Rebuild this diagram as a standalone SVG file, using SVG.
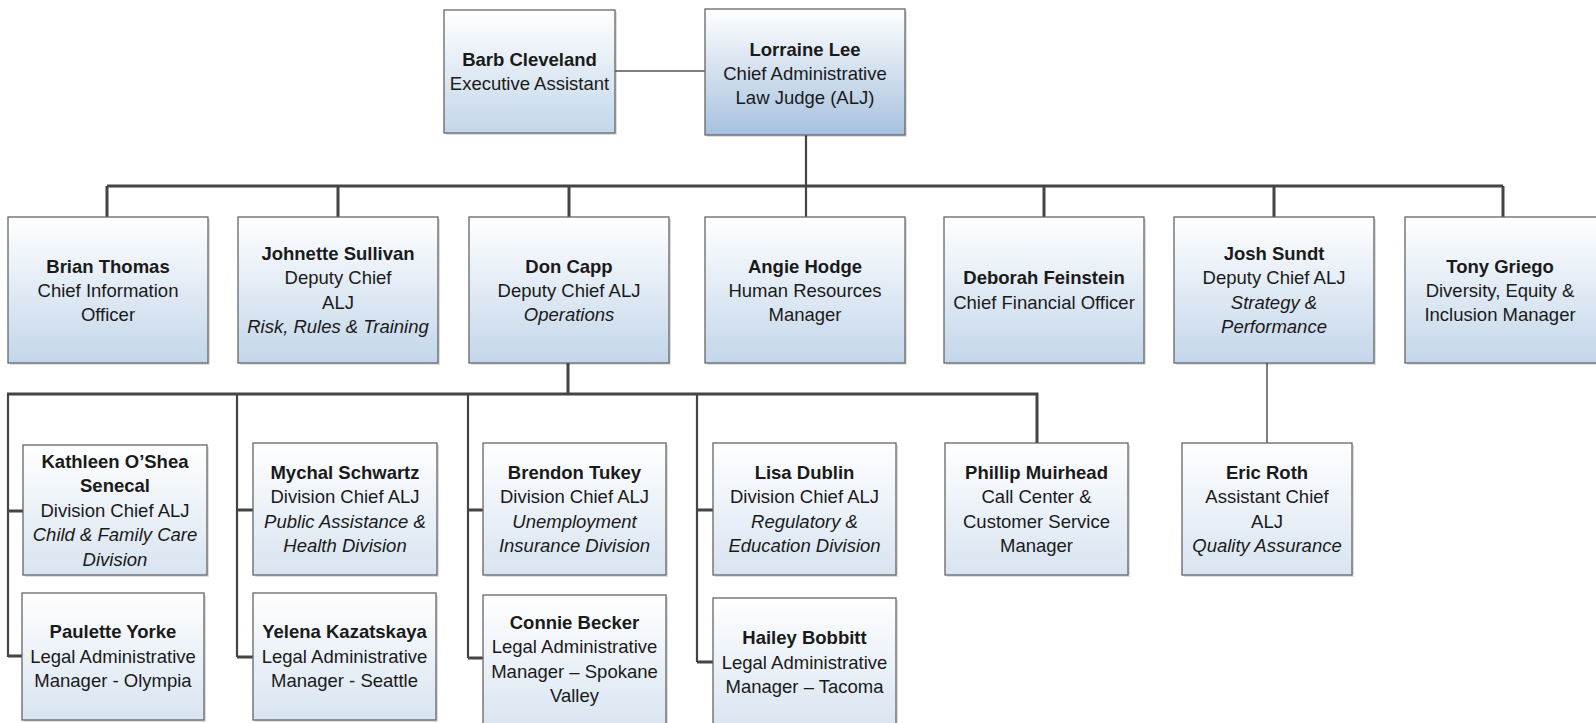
<svg xmlns="http://www.w3.org/2000/svg" width="1596" height="723" viewBox="0 0 1596 723">
<defs>
<linearGradient id="gTop" x1="0" y1="0" x2="0" y2="1"><stop offset="0" stop-color="#ffffff"/><stop offset="1" stop-color="#a6c1de"/></linearGradient>
<linearGradient id="gMid" x1="0" y1="0" x2="0" y2="1"><stop offset="0" stop-color="#ffffff"/><stop offset="1" stop-color="#c3d6ea"/></linearGradient>
<linearGradient id="gLow" x1="0" y1="0" x2="0" y2="1"><stop offset="0" stop-color="#ffffff"/><stop offset="1" stop-color="#d8e4f1"/></linearGradient>
<style>
.sh{fill:#000;opacity:.13}
.bx{stroke:#666;stroke-width:1.3}
.top{fill:url(#gTop)}
.mid{fill:url(#gMid)}
.low{fill:url(#gLow)}
text{font-family:"Liberation Sans",Arial,sans-serif;font-size:18.5px;fill:#1a1a1a;text-anchor:middle}
.b{font-weight:bold}
.i{font-style:italic}
.c{fill:none;stroke:#444}
.t1{stroke-width:1.5;stroke:#555}
.t2{stroke-width:2.2}
.t3{stroke-width:3}
</style>
</defs>
<g id="connectors">
<path class="c t1" d="M615 71H705"/>
<path class="c t2" d="M806 135V217"/>
<path class="c t3" d="M107 186H1503M107 186V217M338 186V217M569 186V217M1044 186V217M1274 186V217M1503 186V217"/>
<path class="c t3" d="M568 363V394M7 394H1037V443"/>
<path class="c t2" d="M8 394V657M237 394V657M468 394V658M697 394V662"/>
<path class="c t3" d="M8 511H23M8 656H22M237 510H253M237 657H253M468 510H483M468 658H483M697 510H713M697 662H713"/>
<path class="c t1" d="M1267 363V443"/>
</g>
<g id="barb"><rect class="sh" x="446" y="12" width="171" height="123"/><rect class="bx mid" x="444" y="10" width="171" height="123"/>
<text x="529.5" y="66" class="b">Barb Cleveland</text><text x="529.5" y="90">Executive Assistant</text></g>
<g id="lorraine"><rect class="sh" x="707" y="11" width="200" height="126"/><rect class="bx top" x="705" y="9" width="200" height="126"/>
<text x="805" y="56" class="b">Lorraine Lee</text><text x="805" y="80">Chief Administrative</text><text x="805" y="103.5">Law Judge (ALJ)</text></g>
<g id="brian"><rect class="sh" x="10" y="219" width="200" height="146"/><rect class="bx mid" x="8" y="217" width="200" height="146"/>
<text x="108" y="272.5" class="b">Brian Thomas</text><text x="108" y="297">Chief Information</text><text x="108" y="321">Officer</text></g>
<g id="johnette"><rect class="sh" x="240" y="219" width="200" height="146"/><rect class="bx mid" x="238" y="217" width="200" height="146"/>
<text x="338" y="260" class="b">Johnette Sullivan</text><text x="338" y="284">Deputy Chief</text><text x="338" y="309">ALJ</text><text x="338" y="333" class="i">Risk, Rules &amp; Training</text></g>
<g id="don"><rect class="sh" x="471" y="219" width="200" height="146"/><rect class="bx mid" x="469" y="217" width="200" height="146"/>
<text x="569" y="272.5" class="b">Don Capp</text><text x="569" y="297">Deputy Chief ALJ</text><text x="569" y="321" class="i">Operations</text></g>
<g id="angie"><rect class="sh" x="707" y="219" width="200" height="146"/><rect class="bx mid" x="705" y="217" width="200" height="146"/>
<text x="805" y="272.5" class="b">Angie Hodge</text><text x="805" y="297">Human Resources</text><text x="805" y="321">Manager</text></g>
<g id="deborah"><rect class="sh" x="946" y="219" width="200" height="146"/><rect class="bx mid" x="944" y="217" width="200" height="146"/>
<text x="1044" y="284" class="b">Deborah Feinstein</text><text x="1044" y="309">Chief Financial Officer</text></g>
<g id="josh"><rect class="sh" x="1176" y="219" width="200" height="146"/><rect class="bx mid" x="1174" y="217" width="200" height="146"/>
<text x="1274" y="260" class="b">Josh Sundt</text><text x="1274" y="284">Deputy Chief ALJ</text><text x="1274" y="309" class="i">Strategy &amp;</text><text x="1274" y="333" class="i">Performance</text></g>
<g id="tony"><rect class="sh" x="1407" y="219" width="200" height="146"/><rect class="bx mid" x="1405" y="217" width="200" height="146"/>
<text x="1500" y="272.5" class="b">Tony Griego</text><text x="1500" y="297">Diversity, Equity &amp;</text><text x="1500" y="321">Inclusion Manager</text></g>
<g id="kathleen"><rect class="sh" x="25" y="447" width="184" height="130"/><rect class="bx low" x="23" y="445" width="184" height="130"/>
<text x="115" y="467.5" class="b">Kathleen O’Shea</text><text x="115" y="492" class="b">Senecal</text><text x="115" y="516.5">Division Chief ALJ</text><text x="115" y="541" class="i">Child &amp; Family Care</text><text x="115" y="565.5" class="i">Division</text></g>
<g id="mychal"><rect class="sh" x="255" y="445" width="184" height="132"/><rect class="bx low" x="253" y="443" width="184" height="132"/>
<text x="345" y="479" class="b">Mychal Schwartz</text><text x="345" y="503">Division Chief ALJ</text><text x="345" y="528" class="i">Public Assistance &amp;</text><text x="345" y="552" class="i">Health Division</text></g>
<g id="brendon"><rect class="sh" x="485" y="445" width="183" height="132"/><rect class="bx low" x="483" y="443" width="183" height="132"/>
<text x="574.5" y="479" class="b">Brendon Tukey</text><text x="574.5" y="503">Division Chief ALJ</text><text x="574.5" y="528" class="i">Unemployment</text><text x="574.5" y="552" class="i">Insurance Division</text></g>
<g id="lisa"><rect class="sh" x="715" y="445" width="183" height="132"/><rect class="bx low" x="713" y="443" width="183" height="132"/>
<text x="804.5" y="479" class="b">Lisa Dublin</text><text x="804.5" y="503">Division Chief ALJ</text><text x="804.5" y="528" class="i">Regulatory &amp;</text><text x="804.5" y="552" class="i">Education Division</text></g>
<g id="phillip"><rect class="sh" x="947" y="445" width="183" height="132"/><rect class="bx low" x="945" y="443" width="183" height="132"/>
<text x="1036.5" y="479" class="b">Phillip Muirhead</text><text x="1036.5" y="503">Call Center &amp;</text><text x="1036.5" y="528">Customer Service</text><text x="1036.5" y="552">Manager</text></g>
<g id="eric"><rect class="sh" x="1184" y="445" width="170" height="132"/><rect class="bx low" x="1182" y="443" width="170" height="132"/>
<text x="1267" y="479" class="b">Eric Roth</text><text x="1267" y="503">Assistant Chief</text><text x="1267" y="528">ALJ</text><text x="1267" y="552" class="i">Quality Assurance</text></g>
<g id="paulette"><rect class="sh" x="24" y="595" width="182" height="127"/><rect class="bx low" x="22" y="593" width="182" height="127"/>
<text x="113" y="638" class="b">Paulette Yorke</text><text x="113" y="663">Legal Administrative</text><text x="113" y="687">Manager - Olympia</text></g>
<g id="yelena"><rect class="sh" x="255" y="595" width="183" height="127"/><rect class="bx low" x="253" y="593" width="183" height="127"/>
<text x="344.5" y="638" class="b">Yelena Kazatskaya</text><text x="344.5" y="663">Legal Administrative</text><text x="344.5" y="687">Manager - Seattle</text></g>
<g id="connie"><rect class="sh" x="485" y="597" width="183" height="135"/><rect class="bx low" x="483" y="595" width="183" height="135"/>
<text x="574.5" y="628.5" class="b">Connie Becker</text><text x="574.5" y="653">Legal Administrative</text><text x="574.5" y="677.5">Manager – Spokane</text><text x="574.5" y="702">Valley</text></g>
<g id="hailey"><rect class="sh" x="715" y="600" width="183" height="132"/><rect class="bx low" x="713" y="598" width="183" height="132"/>
<text x="804.5" y="644" class="b">Hailey Bobbitt</text><text x="804.5" y="668.5">Legal Administrative</text><text x="804.5" y="693">Manager – Tacoma</text></g>
</svg>
